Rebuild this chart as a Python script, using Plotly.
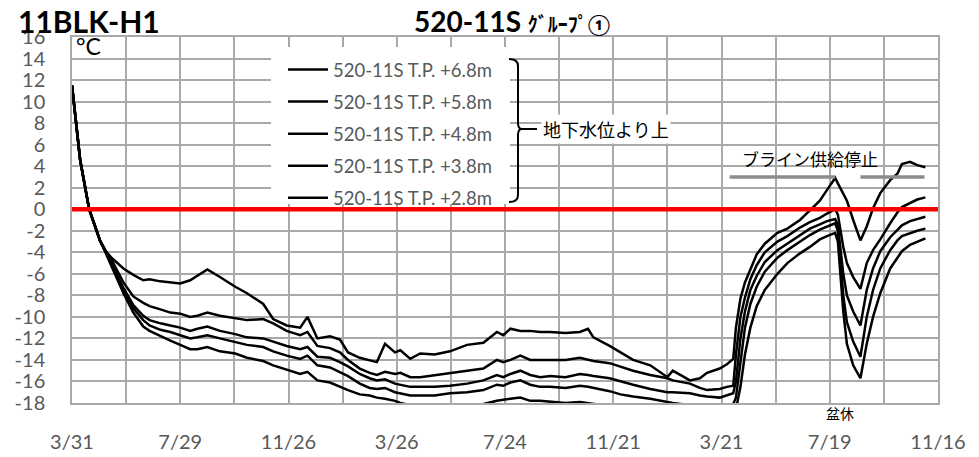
import pandas as pd
import plotly.graph_objects as go

# ---------------- data ----------------
start_date = "2016-03-31"
day_offsets = [0, 9, 19, 31, 37, 45, 57, 68, 79, 86, 98, 109, 120, 131, 139, 150, 164, 181, 194, 212,
               223, 238, 253, 261, 272, 286, 297, 306, 319, 330, 338, 347, 358, 364, 375, 386, 402, 419,
               438, 456, 471, 478, 486, 497, 508, 519, 530, 547, 563, 572, 578, 596, 608, 622, 641, 660,
               666, 685, 696, 704, 718, 726, 733, 736, 741, 746, 752, 759, 768, 782, 793, 807, 818, 829,
               837, 846, 849, 851, 855, 859, 866, 874, 881, 888, 896, 907, 915, 920, 929, 937, 946]

series_names = ["520-11S T.P. +6.8m", "520-11S T.P. +5.8m", "520-11S T.P. +4.8m",
                "520-11S T.P. +3.8m", "520-11S T.P. +2.8m"]

temp_68 = [11.5, 4.6, 0, -2.9, -3.9, -4.6, -5.5, -6.1, -6.6, -6.5, -6.7, -6.8, -6.9, -6.6, -6.2, -5.6, -6.3,
           -7.2, -7.8, -8.8, -10.2, -10.8, -11.0, -10.0, -12.0, -11.8, -12.1, -13.3, -13.8, -14.0, -14.2, -12.5,
           -13.3, -13.1, -13.9, -13.4, -13.5, -13.2, -12.6, -12.4, -11.4, -11.7, -11.1, -11.3, -11.3, -11.4,
           -11.4, -11.5, -11.4, -11.1, -11.9, -12.7, -13.3, -14.0, -14.5, -15.6, -15.0, -15.9, -15.7, -15.2,
           -14.8, -14.4, -13.9, -11.0, -8.3, -6.8, -5.6, -4.2, -3.2, -2.2, -1.8, -1.0, -0.1, 0.8, 1.8, 2.9,
           2.4, 2.1, 1.4, 0.8, -1.0, -2.9, -1.6, 0.1, 1.5, 2.7, 3.3, 4.2, 4.4, 4.1, 3.9]
temp_58 = [11.5, 4.6, 0, -2.9, -3.8, -4.9, -6.8, -8.1, -8.7, -9.0, -9.3, -9.6, -9.7, -10.0, -9.9, -9.6, -9.9,
           -10.1, -10.3, -10.2, -10.6, -11.3, -11.7, -11.4, -12.7, -12.9, -13.3, -14.0, -14.8, -15.2, -15.4,
           -15.1, -15.3, -15.2, -15.6, -15.6, -15.4, -15.2, -15.0, -14.8, -14.0, -14.2, -14.0, -13.6, -14.0,
           -14.0, -14.0, -14.0, -13.8, -14.0, -14.1, -14.3, -14.6, -15.0, -15.4, -15.7, -15.9, -16.2, -16.6,
           -16.8, -16.7, -16.5, -16.4, -13.5, -10.0, -8.2, -6.5, -5.2, -4.0, -3.0, -2.5, -1.7, -1.2, -0.8,
           -0.4, 0.0, -0.5, -1.5, -3.5, -5.0, -6.3, -7.4, -5.0, -3.8, -2.8, -1.3, -0.3, 0.2, 0.6, 0.9, 1.1]
temp_48 = [11.5, 4.6, 0, -2.9, -3.9, -5.2, -7.3, -8.9, -9.9, -10.3, -10.6, -10.8, -11.0, -11.3, -11.1, -10.9,
           -11.3, -11.6, -11.9, -12.0, -12.3, -12.7, -13.0, -12.8, -13.7, -13.8, -14.2, -14.6, -15.3, -15.7,
           -15.9, -15.8, -16.2, -16.3, -16.5, -16.5, -16.5, -16.4, -16.2, -15.9, -15.4, -15.6, -15.3, -15.0,
           -15.4, -15.6, -15.5, -15.6, -15.3, -15.4, -15.5, -15.7, -16.0, -16.3, -16.7, -17.0, -17.0, -17.1,
           -17.3, -17.4, -17.5, -17.3, -17.1, -16.0, -12.0, -9.5, -7.5, -6.2, -4.9, -3.8, -3.2, -2.4, -1.8,
           -1.4, -1.1, -0.9, -1.5, -3.0, -6.0, -8.0, -9.5, -10.8, -7.5, -5.5, -3.9, -2.6, -1.9, -1.5, -1.1,
           -0.9, -0.7]
temp_38 = [11.5, 4.6, 0, -2.9, -3.9, -5.3, -7.5, -9.2, -10.3, -10.8, -11.2, -11.4, -11.7, -12.0, -11.9, -11.7,
           -12.0, -12.3, -12.6, -12.8, -13.2, -13.6, -13.9, -13.6, -14.5, -14.7, -15.1, -15.5, -16.2, -16.6,
           -16.7, -16.6, -17.0, -17.1, -17.3, -17.3, -17.3, -17.1, -17.0, -16.8, -16.3, -16.4, -16.1, -15.9,
           -16.3, -16.5, -16.5, -16.6, -16.4, -16.5, -16.6, -16.9, -17.2, -17.4, -17.6, -17.9, -18.0, -18.2,
           -18.2, -18.3, -18.3, -18.2, -18.1, -17.5, -14.0, -11.0, -8.8, -7.2, -5.8, -4.5, -3.8, -3.0, -2.4,
           -1.9, -1.6, -1.3, -2.0, -4.0, -8.0, -10.5, -12.3, -13.7, -10.0, -7.5, -5.5, -3.8, -2.9, -2.5, -2.2,
           -2.0, -1.8]
temp_28 = [11.5, 4.6, 0, -2.9, -4.0, -5.5, -7.8, -9.6, -10.9, -11.3, -11.8, -12.2, -12.6, -13.0, -13.0, -12.8,
           -13.2, -13.4, -13.8, -14.1, -14.5, -14.9, -15.3, -15.1, -15.9, -16.1, -16.5, -16.8, -17.2, -17.3,
           -17.5, -17.6, -17.8, -18.0, -18.2, -18.2, -18.3, -18.3, -18.2, -18.1, -17.8, -17.7, -17.6, -17.5,
           -17.8, -17.8, -17.9, -18.0, -17.9, -18.0, -18.1, -18.3, -18.5, -18.6, -18.6, -18.6, -18.6, -18.6,
           -18.6, -18.6, -18.6, -18.6, -18.6, -18.6, -16.5, -13.5, -11.0, -9.0, -7.5, -6.0, -5.0, -4.1, -3.5,
           -2.8, -2.5, -2.2, -3.0, -5.0, -9.5, -12.5, -14.5, -15.7, -12.5, -10.0, -7.8, -5.5, -4.5, -3.9, -3.3,
           -3.0, -2.7]
series_values = [temp_68, temp_58, temp_48, temp_38, temp_28]

x_tick_dates = ["2016-03-31", "2016-07-29", "2016-11-26", "2017-03-26", "2017-07-24",
                "2017-11-21", "2018-03-21", "2018-07-19", "2018-11-16"]
x_tick_labels = ["3/31", "7/29", "11/26", "3/26", "7/24", "11/21", "3/21", "7/19", "11/16"]
x_minor_dates = ["2016-05-30", "2016-09-27", "2017-01-25", "2017-05-25", "2017-09-22",
                 "2018-01-20", "2018-05-20", "2018-09-17"]
y_ticks = list(range(-18, 17, 2))

brine_stop_periods = [("2018-03-30", "2018-07-25"), ("2018-08-22", "2018-11-01")]
brine_line_level = 3.0

# ---------------- figure ----------------
dates = pd.to_datetime(start_date) + pd.to_timedelta(day_offsets, unit="D")

fig = go.Figure()
for i, (name, vals) in enumerate(zip(series_names, series_values)):
    fig.add_trace(go.Scatter(x=dates, y=vals, mode="lines", name=name, legendgroup=f"g{i}",
                             line=dict(color="black", width=2.5)))

W, H = 979, 457
L, R, T, B = 72, 41, 37, 54
pw, ph = W - L - R, H - T - B


def px(xp):
    return (xp - L) / pw


def py(yp):
    return (H - B - yp) / ph


grid_col = "#a9a9a9"
fig.update_layout(
    width=W, height=H, margin=dict(l=L, r=R, t=T, b=B, autoexpand=False),
    paper_bgcolor="white", plot_bgcolor="white",
    font=dict(family="Lato, 'Noto Sans CJK JP'", color="#595959"),
    showlegend=True,
    legend=dict(x=px(283), y=py(51), xanchor="left", yanchor="top", bgcolor="rgba(255,255,255,0)",
                font=dict(size=18.5, color="#595959", family="Lato"),
                tracegroupgap=5, traceorder="grouped", itemwidth=40),
    xaxis=dict(type="date", range=["2016-03-31", "2018-11-16"], automargin=False,
               tickmode="array", tickvals=x_tick_dates, ticktext=x_tick_labels,
               showgrid=True, gridcolor=grid_col, gridwidth=1.5,
               minor=dict(tickmode="array", tickvals=x_minor_dates, showgrid=True,
                          gridcolor=grid_col, gridwidth=1.5),
               showline=True, linecolor=grid_col, linewidth=1.5, mirror=True,
               ticks="", ticklabelstandoff=20, tickfont=dict(size=20, color="#595959"),
               zeroline=False),
    yaxis=dict(range=[-18, 16], tickmode="array", tickvals=y_ticks, automargin=False,
               ticktext=[str(v) for v in y_ticks],
               showgrid=True, gridcolor=grid_col, gridwidth=1.5,
               showline=True, linecolor=grid_col, linewidth=1.5, mirror=True,
               ticks="", ticklabelstandoff=21, tickfont=dict(size=20, color="#595959"),
               zeroline=False),
)

# red 0 line
fig.add_shape(type="line", xref="paper", yref="y", x0=0, x1=1, y0=0, y1=0,
              line=dict(color="#ff0000", width=4.5), layer="above")

# white legend panel
fig.add_shape(type="rect", xref="paper", yref="paper", x0=px(271), x1=px(510), y0=py(204), y1=py(47),
              fillcolor="white", line=dict(width=0), layer="above")

# brine stop period bars
for s, e in brine_stop_periods:
    fig.add_shape(type="line", xref="x", yref="y", x0=s, x1=e, y0=brine_line_level, y1=brine_line_level,
                  line=dict(color="#8c8c8c", width=3.5), layer="above")

# bracket
br_path = (f"M {px(509)},{py(59)} Q {px(518)},{py(59)} {px(518)},{py(66)} "
           f"L {px(518)},{py(123)} Q {px(518)},{py(129)} {px(522)},{py(129)} "
           f"Q {px(518)},{py(129)} {px(518)},{py(135)} L {px(518)},{py(195)} "
           f"Q {px(518)},{py(202)} {px(509)},{py(202)} "
           f"M {px(522)},{py(129)} L {px(537)},{py(129)}")
fig.add_shape(type="path", xref="paper", yref="paper", path=br_path,
              line=dict(color="black", width=2), layer="above")

jp = "'Noto Sans CJK JP'"
fig.add_annotation(xref="paper", yref="paper", x=px(541), y=py(129), xanchor="left", yanchor="middle",
                   text="地下水位より上", showarrow=False, bgcolor="white",
                   font=dict(family=jp, size=18, color="black"))
fig.add_annotation(xref="paper", yref="paper", x=px(810), y=py(158), xanchor="center", yanchor="middle",
                   text="ブライン供給停止", showarrow=False,
                   font=dict(family=jp, size=17, color="black"))
fig.add_annotation(xref="paper", yref="paper", x=px(840), y=py(413), xanchor="center", yanchor="middle",
                   text="盆休", showarrow=False, font=dict(family=jp, size=14, color="black"))
fig.add_annotation(xref="paper", yref="paper", x=px(74), y=py(46), xanchor="left", yanchor="middle",
                   text="°C", showarrow=False, font=dict(family="Lato", size=23, color="black"))
fig.add_annotation(xref="paper", yref="paper", x=px(16), y=py(21), xanchor="left", yanchor="middle",
                   text="<b>11BLK-H1</b>", showarrow=False, font=dict(family="Lato", size=30, color="black"))
fig.add_annotation(xref="paper", yref="paper", x=px(512), y=py(21), xanchor="center", yanchor="middle",
                   text="<b>520-11S <span style='font-size:20px'>ｸﾞﾙｰﾌﾟ①</span></b>", showarrow=False,
                   font=dict(family="Lato, 'Noto Sans CJK JP'", size=28, color="black"))

fig.write_html("out.html", config={"displayModeBar": False},
               post_script="document.body.style.margin='0';document.body.style.overflow='hidden';")
